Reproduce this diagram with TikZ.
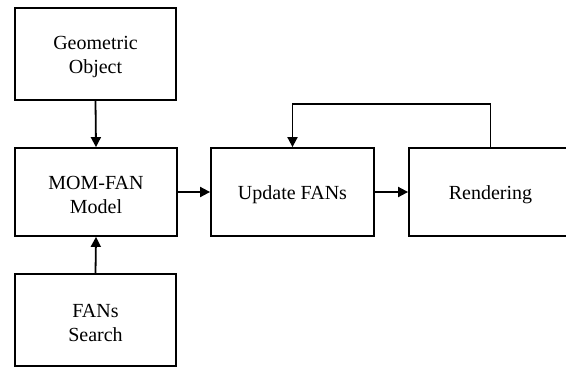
\documentclass[tikz,border=0pt]{standalone}
\usepackage{fontspec}
\setmainfont{Liberation Serif}
\usetikzlibrary{arrows.meta}
\begin{document}
\begin{tikzpicture}[x=1pt,y=-1pt,
  box/.style={draw,line width=1.8pt,inner sep=0pt},
  txt/.style={label={[align=center,yshift=-3pt,
    font=\fontsize{20}{24}\selectfont]center:{#1}}},
  arr/.style={line width=1.8pt,-{Triangle[length=10pt,width=10pt]}}]
\useasboundingbox (0,0) rectangle (566,367);
\clip (0,0) rectangle (566,367);
\node[box,minimum width=161pt,minimum height=92pt,txt={Geometric\\Object}] (geo) at (95.5,54) {};
\node[box,minimum width=162pt,minimum height=88pt,txt={MOM-FAN\\Model}] (mom) at (96,192) {};
\node[box,minimum width=163pt,minimum height=88pt,txt={Update FANs}] (upd) at (292.5,192) {};
\node[box,minimum width=163pt,minimum height=88pt,txt={Rendering}] (ren) at (490.5,192) {};
\node[box,minimum width=161pt,minimum height=92pt,txt={FANs\\Search}] (fan) at (95.5,320) {};
\coordinate (top) at (0,104);
\draw[arr] (geo.south) -- (mom.north);
\draw[arr] (fan.north) -- (mom.south);
\draw[arr] (mom.east) -- (upd.west);
\draw[arr] (upd.east) -- (ren.west);
\draw[arr] (ren.north) -- (ren.north |- top) -| (upd.north);
\end{tikzpicture}
\end{document}
